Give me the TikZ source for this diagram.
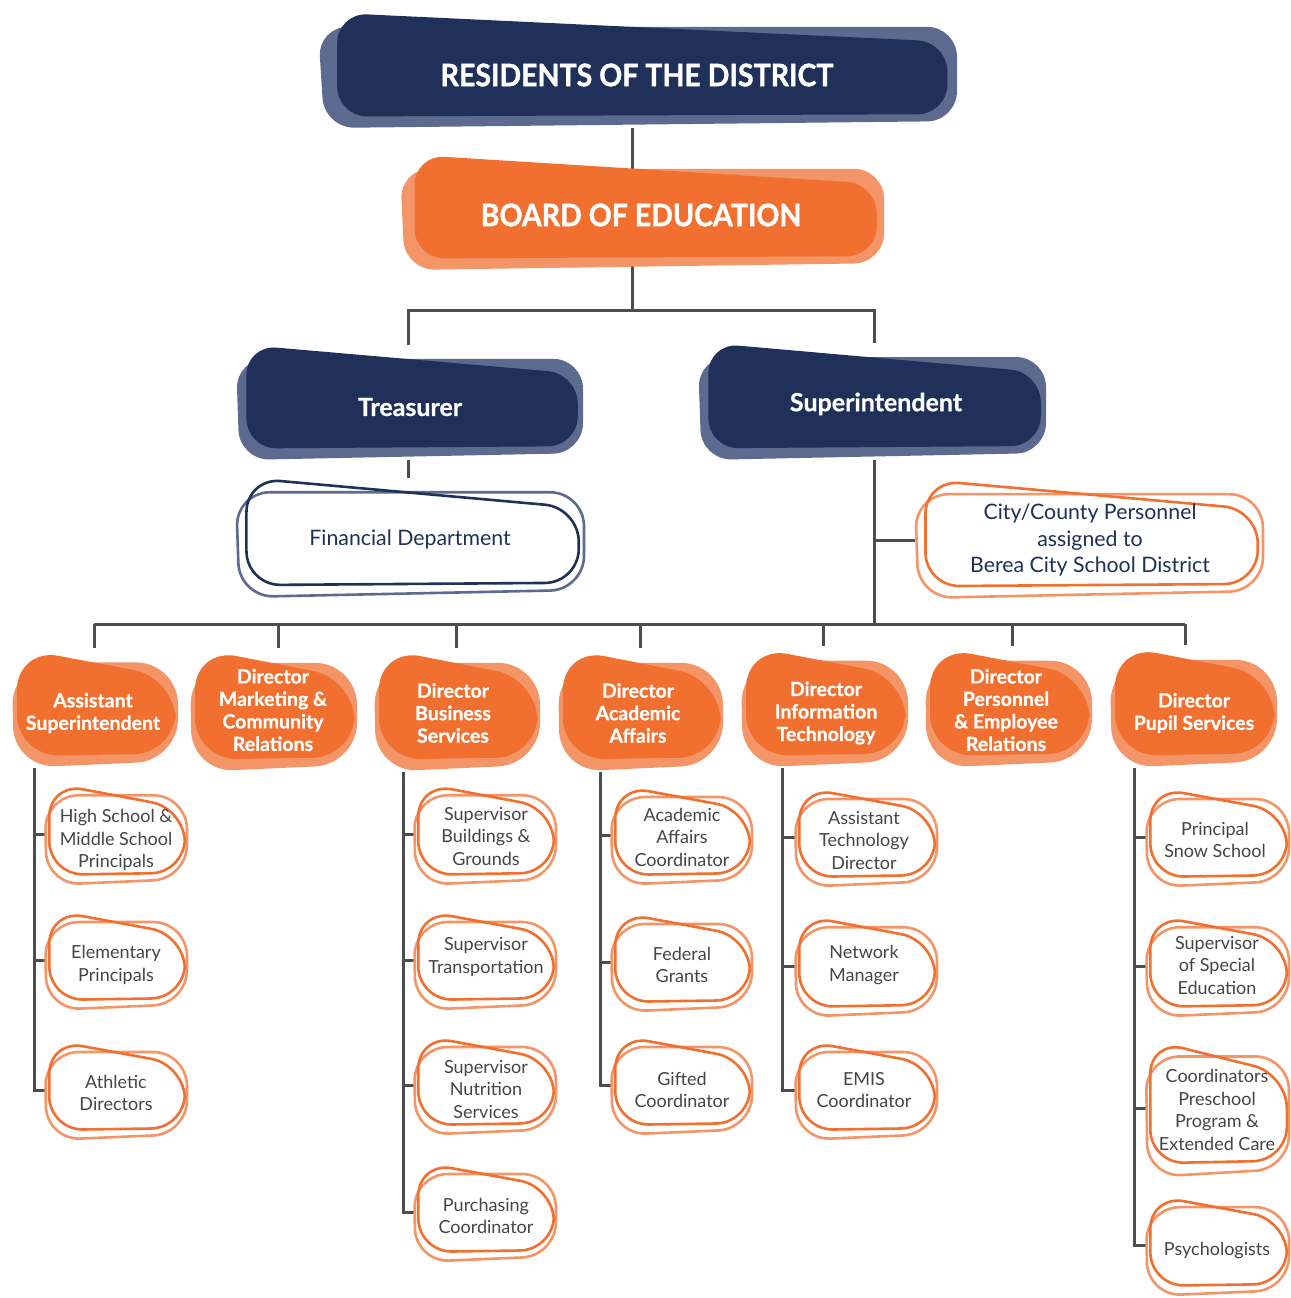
\documentclass[tikz,border=0pt]{standalone}
\usepackage{fontspec}
\setmainfont{Lato}
\newfontfamily\hdrfont[FakeStretch=0.92,FakeBold=1.2]{Lato}
\newfontfamily\dirfont[FakeBold=0.7]{Lato}
\usetikzlibrary{backgrounds}
\definecolor{navy}{HTML}{1F3158}
\definecolor{navyl}{HTML}{5B6A8E}
\definecolor{org}{HTML}{F16F2F}
\definecolor{orgl}{HTML}{F49568}
\definecolor{conncol}{HTML}{4D4D4F}
\definecolor{subtxt}{HTML}{454545}

\newcommand{\blobpaths}[7]{%
  \pgfmathsetmacro\bW{#3-#1}%
  \pgfmathsetmacro\bH{#4-#2}%
  \path[rounded corners=#5,#6] (#1,#2+0.12*\bH) -- (#3,#2+0.12*\bH) -- (#3,#4-0.06*\bH) -- (#1+0.01*\bW,#4) -- cycle;
  \path[rounded corners=#5,#7] (#1+0.03*\bW,#2) -- (#3-0.015*\bW,#2+0.25*\bH) -- (#3-0.015*\bW,#4-0.12*\bH) -- (#1+0.03*\bW,#4-0.1*\bH) -- cycle;
}
\newcommand{\areanode}[5]{\node[draw=none,inner sep=0pt,minimum width={#4-#2},minimum height={#5-#3}] (#1) at ({(#2+#4)/2},{(#3+#5)/2}) {};}
\newcommand{\navybox}[5]{\blobpaths{#2}{#3}{#4}{#5}{30}{fill=navyl}{fill=navy}\areanode{#1}{#2}{#3}{#4}{#5}}
\newcommand{\orgbox}[5]{\blobpaths{#2}{#3}{#4}{#5}{30}{fill=orgl}{fill=org}\areanode{#1}{#2}{#3}{#4}{#5}}
\newcommand{\dirbox}[5]{\blobpaths{#2}{#3}{#4}{#5}{42}{fill=orgl}{fill=org}\areanode{#1}{#2}{#3}{#4}{#5}}
\newcommand{\outbox}[7]{%
  \blobpaths{#2}{#3}{#4}{#5}{34}{fill=white}{fill=white}%
  \blobpaths{#2}{#3}{#4}{#5}{34}{draw=#6,line width=2.6pt}{draw=#7,line width=2.6pt}%
  \areanode{#1}{#2}{#3}{#4}{#5}}

\tikzset{
  hdr/.style={text=white,font=\hdrfont\bfseries\fontsize{31}{36}\selectfont,inner sep=0pt},
  midhdr/.style={text=white,font=\dirfont\bfseries\fontsize{25}{30}\selectfont,inner sep=0pt},
  dirtxt/.style={text=white,font=\dirfont\bfseries\fontsize{19.5}{22.5}\selectfont,align=center,inner sep=0pt},
  subtx/.style={text=subtxt,font=\fontsize{18}{22.5}\selectfont,align=center,inner sep=0pt},
  navytx/.style={text=navy,font=\fontsize{21.3}{26.5}\selectfont,align=center,inner sep=0pt},
  link/.style={draw=conncol,line width=3pt}
}

\begin{document}
\begin{tikzpicture}[x=1pt,y=-1pt]
\useasboundingbox (0,0) rectangle (1290,1298);

% top level
\navybox{res}{318}{13}{957}{128}
\node[hdr] (rest) at (637,75) {RESIDENTS OF THE DISTRICT};
\orgbox{board}{400}{155}{884}{270}
\node[hdr] (boardt) at (641,215) {BOARD OF EDUCATION};
\navybox{treas}{236}{345}{583}{460}
\node[midhdr] (treast) at (410,407) {Treasurer};
\navybox{sup}{698}{343}{1046}{460}
\node[midhdr] (supt) at (876,404) {Superintendent};
\outbox{fin}{236}{478}{584}{597}{navyl}{navy}
\node[navytx] (fint) at (410,539) {Financial Department};
\outbox{city}{915}{480}{1263}{598}{orgl}{org}
\node[navytx] (cityt) at (1090,540) {City/County Personnel\\assigned to\\Berea City School District};

% directors
\dirbox{d1}{12}{648}{178}{768}
\node[dirtxt] (d1t) at (93,713) {Assistant\\Superintendent};
\dirbox{d2}{190}{648}{357}{772}
\node[dirtxt] (d2t) at (273,710) {Director\\Marketing \&\\Community\\Relations};
\dirbox{d3}{374}{648}{540}{772}
\node[dirtxt] (d3t) at (453,713) {Director\\Business\\Services};
\dirbox{d4}{558}{648}{723}{772}
\node[dirtxt] (d4t) at (638,713) {Director\\Academic\\Affairs};
\dirbox{d5}{741}{646}{908}{768}
\node[dirtxt] (d5t) at (826,713) {Director\\Information\\Technology};
\dirbox{d6}{925}{646}{1092}{768}
\node[dirtxt] (d6t) at (1006,710) {Director\\Personnel\\\& Employee\\Relations};
\dirbox{d7}{1110}{645}{1277}{768}
\node[dirtxt] (d7t) at (1194,713) {Director\\Pupil Services};

% column 1
\outbox{s11}{45}{783}{187}{885}{orgl}{org}
\node[subtx] (s11t) at (116,840) {High School \&\\Middle School\\Principals};
\outbox{s12}{45}{910}{187}{1010}{orgl}{org}
\node[subtx] (s12t) at (116,965) {Elementary\\Principals};
\outbox{s13}{45}{1040}{187}{1140}{orgl}{org}
\node[subtx] (s13t) at (116,1093) {Athletic\\Directors};

% column 3
\outbox{s31}{414}{783}{556}{885}{orgl}{org}
\node[subtx] (s31t) at (486,836) {Supervisor\\Buildings \&\\Grounds};
\outbox{s32}{414}{910}{556}{1010}{orgl}{org}
\node[subtx] (s32t) at (486,957) {Supervisor\\Transportation};
\outbox{s33}{414}{1035}{556}{1135}{orgl}{org}
\node[subtx] (s33t) at (486,1089) {Supervisor\\Nutrition\\Services};
\outbox{s34}{414}{1162}{556}{1262}{orgl}{org}
\node[subtx] (s34t) at (486,1216) {Purchasing\\Coordinator};

% column 4
\outbox{s41}{611}{785}{752}{885}{orgl}{org}
\node[subtx] (s41t) at (682,837) {Academic\\Affairs\\Coordinator};
\outbox{s42}{611}{912}{752}{1012}{orgl}{org}
\node[subtx] (s42t) at (682,965) {Federal\\Grants};
\outbox{s43}{611}{1035}{752}{1135}{orgl}{org}
\node[subtx] (s43t) at (682,1090) {Gifted\\Coordinator};

% column 5
\outbox{s51}{795}{787}{937}{887}{orgl}{org}
\node[subtx] (s51t) at (864,840) {Assistant\\Technology\\Director};
\outbox{s52}{795}{915}{937}{1017}{orgl}{org}
\node[subtx] (s52t) at (864,965) {Network\\Manager};
\outbox{s53}{795}{1040}{937}{1140}{orgl}{org}
\node[subtx] (s53t) at (864,1090) {EMIS\\Coordinator};

% column 7
\outbox{s71}{1146}{787}{1289}{887}{orgl}{org}
\node[subtx] (s71t) at (1215,840) {Principal\\Snow School};
\outbox{s72}{1146}{915}{1289}{1017}{orgl}{org}
\node[subtx] (s72t) at (1217,965) {Supervisor\\of Special\\Education};
\outbox{s73}{1146}{1040}{1289}{1177}{orgl}{org}
\node[subtx] (s73t) at (1217,1110) {Coordinators\\Preschool\\Program \&\\Extended Care};
\outbox{s74}{1146}{1195}{1289}{1296}{orgl}{org}
\node[subtx] (s74t) at (1217,1250) {Psychologists};

% junctions
\coordinate (j1) at (632,310);
\coordinate (j2) at (874,624);
\coordinate (b1) at (94,624);
\coordinate (b2) at (278,624);
\coordinate (b3) at (456,624);
\coordinate (b4) at (640,624);
\coordinate (b5) at (823,624);
\coordinate (b6) at (1012,624);
\coordinate (b7) at (1185,624);
\coordinate (v1) at (34,0);
\coordinate (v3) at (403,0);
\coordinate (v4) at (600,0);
\coordinate (v5) at (782,0);
\coordinate (v7) at (1134,0);
\coordinate (ct) at (408,0);

\begin{pgfonlayer}{background}
\fill[white] (0,0) rectangle (1290,1298);
\draw[link] (res.south -| j1) -- (j1);
\draw[link] (treas.north -| ct) |- (j1) -| (sup.north -| j2);
\draw[link] (treas.south -| ct) -- (fin.north -| ct);
\draw[link] (sup.south -| j2) -- (j2);
\draw[link] (j2 |- cityt) -- (city.west |- cityt);
\draw[link] (b1) -- (b7);
\foreach \b/\d in {b1/d1,b2/d2,b3/d3,b4/d4,b5/d5,b6/d6,b7/d7}
  \draw[link] (\b) -- (\b |- \d.north);
% column connectors
\draw[link] (d1.south -| v1) |- (s13.west);
\draw[link] (v1 |- s11.west) -- (s11.west);
\draw[link] (v1 |- s12.west) -- (s12.west);
\draw[link] (d3.south -| v3) |- (s34.west);
\draw[link] (v3 |- s31.west) -- (s31.west);
\draw[link] (v3 |- s32.west) -- (s32.west);
\draw[link] (v3 |- s33.west) -- (s33.west);
\draw[link] (d4.south -| v4) |- (s43.west);
\draw[link] (v4 |- s41.west) -- (s41.west);
\draw[link] (v4 |- s42.west) -- (s42.west);
\draw[link] (d5.south -| v5) |- (s53.west);
\draw[link] (v5 |- s51.west) -- (s51.west);
\draw[link] (v5 |- s52.west) -- (s52.west);
\draw[link] (d7.south -| v7) |- (s74.west);
\draw[link] (v7 |- s71.west) -- (s71.west);
\draw[link] (v7 |- s72.west) -- (s72.west);
\draw[link] (v7 |- s73.west) -- (s73.west);
\end{pgfonlayer}
\end{tikzpicture}
\end{document}
